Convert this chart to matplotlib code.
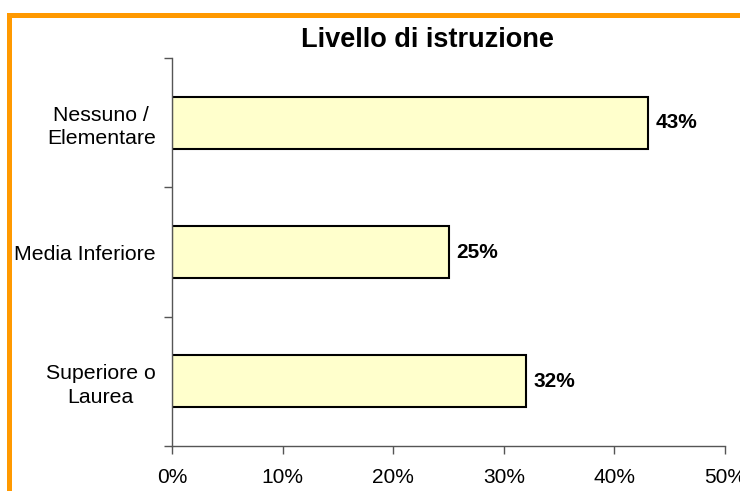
import matplotlib.pyplot as plt
from matplotlib.patches import Rectangle

plt.rcParams['font.family'] = ['Liberation Sans', 'DejaVu Sans']

# === Dati ===
categorie = ["Nessuno /\nElementare", "Media Inferiore", "Superiore o\nLaurea"]
percentuali = [43, 25, 32]
tick_x = [0, 10, 20, 30, 40, 50]
titolo = "Livello di istruzione"

fig = plt.figure(figsize=(7.4, 4.91), dpi=100)
ax = fig.add_axes([172.3 / 740, 1 - 446 / 491, (725 - 172.3) / 740, (446 - 58) / 491])

# cornice arancione (solo lati sinistro e superiore visibili)
fig.add_artist(Rectangle((9.2 / 740, -0.2), 1.2, 1 - 14.8 / 491 + 0.2,
                         transform=fig.transFigure, fill=False,
                         edgecolor="#FF9900", linewidth=3.6, clip_on=False))

# posizioni: dall'alto verso il basso
pos = [len(categorie) - 1 - i for i in range(len(categorie))]
ax.barh(pos, percentuali, height=0.40, color="#FFFFCC", edgecolor="black", linewidth=1.5)

for p, v in zip(pos, percentuali):
    ax.text(v + 0.7, p, f"{v}%", va="center", ha="left", fontsize=15, fontweight="bold")

ax.set_xlim(0, 50)
ax.set_ylim(-0.5, len(categorie) - 0.5)
ax.set_xticks(tick_x)
ax.set_xticklabels([f"{t}%" for t in tick_x])

# tacche sui confini delle categorie, etichette al centro
ax.set_yticks([i - 0.5 for i in range(len(categorie) + 1)])
ax.set_yticklabels([])
ax.set_yticks(pos, minor=True)
ax.set_yticklabels(categorie, minor=True, multialignment="center", linespacing=1.3)
ax.tick_params(axis="y", which="minor", length=0, pad=12, labelsize=15.3)
ax.tick_params(axis="y", which="major", length=6, width=1, color="#555555", direction="out")
ax.tick_params(axis="x", length=6, width=1, color="#555555", direction="out", pad=10, labelsize=15)

for lato in ["top", "right"]:
    ax.spines[lato].set_visible(False)
for lato in ["left", "bottom"]:
    ax.spines[lato].set_color("#555555")
    ax.spines[lato].set_linewidth(1)

fig.text(427 / 740, 1 - 40 / 491, titolo, ha="center", va="center", fontsize=19.5, fontweight="bold")

fig.savefig("out.png", dpi=100)
